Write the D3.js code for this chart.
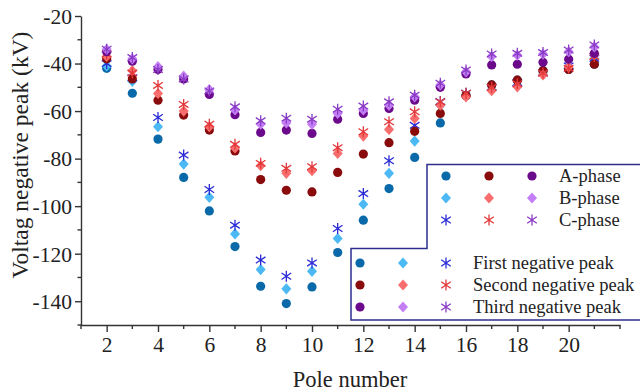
<!DOCTYPE html>
<html>
<head>
<meta charset="utf-8">
<script src="https://cdn.jsdelivr.net/npm/d3@7"></script>
<style>
  body { margin: 0; background: #fff; }
  svg text { font-family: "Liberation Serif", "Times New Roman", serif; fill: #222; }
</style>
</head>
<body>
<div id="chart"></div>
<script>
// pole numbers 2..21
var poles = [2,3,4,5,6,7,8,9,10,11,12,13,14,15,16,17,18,19,20,21];

// first negative peak
var firstA  = [-42,-52.5,-71.8,-87.9,-102,-117,-133.7,-141,-134,-119.5,-105.9,-92.6,-79.5,-65,-53.5,-49,-47,-43,-42.5,-40.3];
var firstB  = [-41,-47.5,-66.6,-82.3,-96.3,-111.7,-126.7,-134.8,-127.4,-113.6,-99.2,-86.2,-72.6,-57.5,-53.5,-51,-49.5,-44.5,-42,-38];
var firstC  = [-40,-46,-62.7,-78.5,-93,-108,-122.7,-129.5,-123.9,-109.4,-94.7,-80.9,-66,-56,-52.5,-50,-48,-44,-41,-37.8];
// second negative peak
var secondA = [-38,-46.5,-55.4,-61.7,-68,-76.8,-88.8,-93.3,-94,-85.8,-78.1,-73.3,-68.5,-61,-53.5,-49,-47,-43,-42.5,-40.3];
var secondB = [-37,-43,-52.6,-60,-66.6,-75.5,-83,-86.2,-85.1,-77.8,-70.5,-67.7,-63.1,-57.5,-54,-51.4,-49.8,-44.8,-41.5,-36.4];
var secondC = [-36,-44,-49.2,-57.2,-65.5,-74,-82,-84.1,-83.4,-75.4,-68.7,-64.5,-60.3,-56.1,-52.5,-50,-48.5,-44,-42,-37];
// third negative peak
var thirdA  = [-35,-39,-42.5,-46.5,-53,-61.5,-69,-68,-69.4,-63.4,-61,-58.9,-55.4,-50,-44.4,-40.6,-40.3,-39.5,-38.2,-35.7];
var thirdB  = [-34,-38,-41.3,-45.3,-51,-59.5,-65.5,-65,-65.5,-61,-59.5,-57.5,-54,-49,-43.5,-37,-36.5,-36,-35,-33];
var thirdC  = [-34,-37.5,-42.5,-46.5,-51.5,-58.2,-64.1,-63,-63.4,-59.2,-57.9,-56.1,-53.3,-48.3,-42.7,-36,-35.7,-35.4,-34.3,-32.2];

var yTicks = [-20,-40,-60,-80,-100,-120,-140];
var xTicks = [2,4,6,8,10,12,14,16,18,20];
var phaseNames = ["A-phase","B-phase","C-phase"];
var peakNames = ["First negative peak","Second negative peak","Third negative peak"];

var width = 640, height = 392;

var series = [
  {vals: firstA,  shape: "circle",  color: "#0a69a8"},
  {vals: firstB,  shape: "diamond", color: "#4cb9f4"},
  {vals: firstC,  shape: "star",    color: "#2b2bd6"},
  {vals: secondA, shape: "circle",  color: "#8a0b0b"},
  {vals: secondB, shape: "diamond", color: "#f86d6d"},
  {vals: secondC, shape: "star",    color: "#e3383a"},
  {vals: thirdA,  shape: "circle",  color: "#6b0b8c"},
  {vals: thirdB,  shape: "diamond", color: "#c47ef5"},
  {vals: thirdC,  shape: "star",    color: "#8a3bc4"}
];

var svg = d3.select("#chart").append("svg")
    .attr("width", width)
    .attr("height", height);

var x = d3.scaleLinear().domain([1, 22]).range([81, 620]);
var y = d3.scaleLinear().domain([-150, -20]).range([325, 16]);

// draw a marker at (0,0)
function marker(g, shape, color) {
  if (shape == "circle") {
    g.append("circle").attr("r", 4.6).attr("fill", color);
  } else if (shape == "diamond") {
    g.append("path").attr("d", "M0,-5.6L5,0L0,5.6L-5,0Z").attr("fill", color);
  } else {
    g.append("path")
      .attr("d", "M0,-5.5V5.5M-4.8,-3.2L4.8,3.2M-4.8,3.2L4.8,-3.2")
      .attr("stroke", color).attr("stroke-width", 1.3).attr("fill", "none");
  }
}

// data points
series.forEach(function(s) {
  var pts = svg.append("g").selectAll("g").data(s.vals)
    .enter().append("g")
    .attr("transform", function(d, i) { return "translate(" + x(poles[i]) + "," + y(d) + ")"; });
  pts.each(function() { marker(d3.select(this), s.shape, s.color); });
});

// axes
var axisColor = "#333";
var yAxis = d3.axisLeft(y).tickValues(yTicks).tickSize(6).tickSizeOuter(0).tickPadding(3)
  .tickFormat(function(d) { return "-" + Math.abs(d); });
var gy = svg.append("g").attr("transform", "translate(81,0)").call(yAxis);
gy.selectAll("text").style("font-size", "21.5px").attr("dy", "0.34em");

var yMinor = d3.range(-150, -20, 10).filter(function(v) { return yTicks.indexOf(v) < 0; });
gy.selectAll(".minor").data(yMinor).enter().append("line")
  .attr("class", "minor").attr("x1", 0).attr("x2", -3.5)
  .attr("y1", function(d) { return y(d); }).attr("y2", function(d) { return y(d); });

var xAxis = d3.axisBottom(x).tickValues(xTicks).tickSize(7).tickSizeOuter(0).tickPadding(5);
var gx = svg.append("g").attr("transform", "translate(0,325)").call(xAxis);
gx.selectAll("text").style("font-size", "21.5px");

var xMinor = [1,3,5,7,9,11,13,15,17,19,21,22];
gx.selectAll(".minor").data(xMinor).enter().append("line")
  .attr("class", "minor").attr("y1", 0).attr("y2", 4)
  .attr("x1", function(d) { return x(d); }).attr("x2", function(d) { return x(d); });

svg.selectAll(".domain, .tick line, .minor").attr("stroke", axisColor).attr("stroke-width", 1.4);
svg.selectAll(".tick text").style("fill", "#222");

// axis titles
svg.append("text")
  .attr("x", 350).attr("y", 387)
  .attr("text-anchor", "middle")
  .style("font-size", "22.5px")
  .text("Pole number");

svg.append("text")
  .attr("transform", "translate(28,155) rotate(-90)")
  .attr("text-anchor", "middle")
  .style("font-size", "23.5px")
  .text("Voltag negative peak (kV)");

// legend
var lg = svg.append("g");
lg.append("path")
  .attr("d", "M427,164.5H641V320H351V248.5H427Z")
  .attr("fill", "#fff").attr("stroke", "#2e2e8e").attr("stroke-width", 1.5);

var topCols = [446, 489, 532];
var rowsTop = [176, 198, 220];
// upper block: rows are phases, columns are peaks
phaseNames.forEach(function(name, r) {
  [0, 1, 2].forEach(function(c) {
    var s = series[c * 3 + r];
    marker(lg.append("g").attr("transform", "translate(" + topCols[c] + "," + rowsTop[r] + ")"), s.shape, s.color);
  });
  lg.append("text").attr("x", 559).attr("y", rowsTop[r]).attr("dy", "0.33em")
    .style("font-size", "18.5px").text(name);
});

var botCols = [360, 403, 446];
var rowsBot = [263, 285, 307];
peakNames.forEach(function(name, r) {
  [0, 1, 2].forEach(function(c) {
    var s = series[r * 3 + c];
    marker(lg.append("g").attr("transform", "translate(" + botCols[c] + "," + rowsBot[r] + ")"), s.shape, s.color);
  });
  lg.append("text").attr("x", 473).attr("y", rowsBot[r]).attr("dy", "0.33em")
    .style("font-size", "18.5px").text(name);
});
</script>
</body>
</html>
